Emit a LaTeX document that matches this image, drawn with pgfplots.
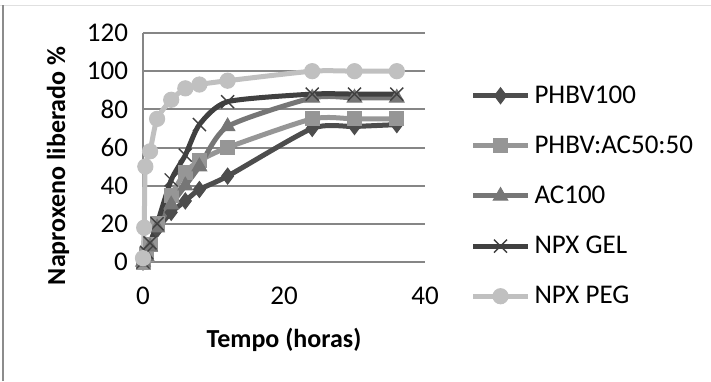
\documentclass[border=0pt]{standalone}
\usepackage{fontspec}
\setmainfont{Carlito}
\usepackage{pgfplots}
\pgfplotsset{compat=1.18}

\definecolor{cPhbv}{RGB}{77,77,77}
\definecolor{cMix}{RGB}{150,150,150}
\definecolor{cAc}{RGB}{118,118,118}
\definecolor{cGel}{RGB}{64,64,64}
\definecolor{cPeg}{RGB}{192,192,192}
\definecolor{cGrid}{RGB}{134,134,134}

\begin{document}
\begin{tikzpicture}
% chart area frame
\path[use as bounding box] (0,0) rectangle (355.5pt,190.5pt);
\draw[line width=0.4pt, color=black!12] (0,188pt) -- (355.5pt,188pt);
\draw[line width=1pt, color=black!45] (1.5pt,0) -- (1.5pt,188pt);

\begin{axis}[
  scale only axis,
  width=141pt, height=114.5pt,
  at={(71.5pt,59.5pt)}, anchor=south west,
  xmin=0, xmax=40, ymin=0, ymax=120,
  xtick={0,20,40}, ytick={0,20,...,120},
  axis line style={draw=none},
  axis y line*=left,
  axis x line*=bottom,
  ymajorgrids,
  grid style={color=cGrid, line width=1pt},
  major tick length=0pt,
  /pgf/number format/assume math mode=true,
  tick label style={font=\fontsize{13.5pt}{15pt}\selectfont, color=black},
  xticklabel style={yshift=-9pt},
  yticklabel style={xshift=-4pt},
  xlabel={\textbf{Tempo (horas)}},
  ylabel={\textbf{Naproxeno liberado \%}},
  label style={font=\fontsize{13pt}{15pt}\selectfont},
  xlabel style={yshift=-5pt},
  ylabel style={at={(ticklabel cs:0.42)}, yshift=2pt},
  clip=false,
  legend style={draw=none, fill=none, at={(1.16,0.79)}, anchor=north west,
    font=\fontsize{13.5pt}{15pt}\selectfont,
    row sep=10.8pt, inner sep=0pt,
    /tikz/every even column/.append style={column sep=0pt}},
  legend cell align=left,
  legend image code/.code={%
    \draw[mark repeat=2,mark phase=2] plot coordinates {(0pt,0pt) (13.75pt,0pt) (27.5pt,0pt)};},
  every axis plot/.append style={line width=2.5pt, smooth, tension=0.4},
]
% y axis line
\draw[color=cGrid, line width=1pt] (axis cs:0,0) -- (axis cs:0,120);

\addplot[cPhbv, mark=diamond*, mark size=4pt, mark options={solid, line width=0.5pt, fill=cPhbv}]
  coordinates {(0,0) (0.5,4) (1,8) (2,17) (4,26) (6,32) (8,38) (12,45) (24,70) (30,71) (36,72)};
\addlegendentry{PHBV100}

\addplot[cMix, mark=square*, mark size=3.5pt, mark options={solid, line width=0.5pt, fill=cMix}]
  coordinates {(0,0) (0.5,4) (1,9) (2,20) (4,35) (6,47) (8,53) (12,60) (24,75) (30,75) (36,75)};
\addlegendentry{PHBV:AC50:50}

\addplot[cAc, mark=triangle*, mark size=4.2pt, mark options={solid, line width=0.5pt, fill=cAc}]
  coordinates {(0,0) (0.5,3) (1,8) (2,18) (4,30) (6,40) (8,50) (12,71) (24,86) (30,86) (36,86)};
\addlegendentry{AC100}

\addplot[cGel, mark=x, mark size=4.6pt, mark options={solid, line width=0.7pt, draw=cGel}]
  coordinates {(0,0) (0.5,5) (1,10) (2,20) (4,43) (6,56) (8,72) (12,84) (24,88) (30,88) (36,88)};
\addlegendentry{NPX GEL}

\addplot[cPeg, mark=*, mark size=3.8pt, mark options={solid, line width=0.5pt, fill=cPeg}]
  coordinates {(0,2) (0.17,18) (0.33,50) (1,58) (2,75) (4,85) (6,91) (8,93) (12,95) (24,100) (30,100) (36,100)};
\addlegendentry{NPX PEG}
\end{axis}
\end{tikzpicture}
\end{document}
